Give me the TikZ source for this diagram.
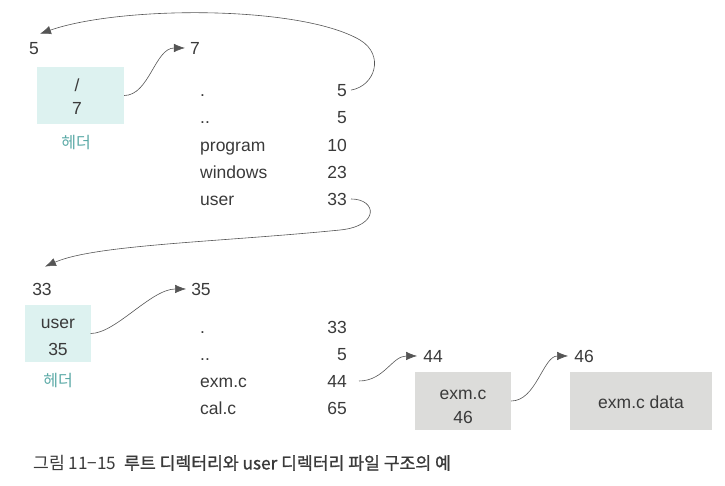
\documentclass[tikz,border=0pt]{standalone}
\usepackage{fontspec}
\setmainfont{Liberation Sans}
\newfontfamily\cjk{Noto Sans CJK KR}
\newfontfamily\cjkm[FakeBold=1.2]{Noto Sans CJK KR}
\usetikzlibrary{arrows.meta}
\definecolor{txt}{HTML}{3A3A3A}
\definecolor{hdr}{HTML}{DDF2F0}
\definecolor{teal}{HTML}{5AA9A6}
\definecolor{gbox}{HTML}{DCDCDA}
\definecolor{arr}{HTML}{555555}
\begin{document}
\begin{tikzpicture}[x=1pt,y=-1pt,
  every node/.style={inner sep=0pt,text=txt,font=\fontsize{17.5}{20}\selectfont},
  lbl/.style={anchor=base},
  nm/.style={anchor=base west},
  num/.style={anchor=base east},
  hbox/.style={fill=hdr,draw=none},
  fbox/.style={fill=gbox,draw=none},
  kor/.style={text=teal,font=\cjk\fontsize{16}{18}\selectfont},
  link/.style={draw=arr,line width=0.6pt,-{Latex[length=11pt,width=8.5pt]}}]
\useasboundingbox (0,0) rectangle (725,485);

% ---- root directory ----
\node[lbl] (p5) at (34,54) {5};
\node[lbl] (p7) at (195,54) {7};
\node[hbox,minimum width=87pt,minimum height=57pt] (h1) at (80.5,95.5) {};
\node[lbl] at (77,91) {/};
\node[lbl] at (77,114) {7};
\node[kor] (k1) at (76,143) {헤더};

\node[nm] (a1) at (200,96) {.};
\node[nm] (a2) at (200,123) {..};
\node[nm] (a3) at (200,151) {program};
\node[nm] (a4) at (200,178) {windows};
\node[nm] (a5) at (200,205) {user};
\node[num] (b1) at (347,96) {5};
\node[num] (b2) at (347,123) {5};
\node[num] (b3) at (347,151) {10};
\node[num] (b4) at (347,178) {23};
\node[num] (b5) at (347,205) {33};

% ---- user directory ----
\node[lbl] (q33) at (42,295) {33};
\node[lbl] (q35) at (201,295) {35};
\node[hbox,minimum width=66pt,minimum height=57pt] (h2) at (57.5,333.5) {};
\node[lbl] at (58,328) {user};
\node[lbl] at (58,355) {35};
\node[kor] (k2) at (58,381) {헤더};

\node[nm] (c1) at (200,333) {.};
\node[nm] (c2) at (200,360) {..};
\node[nm] (c3) at (200,387) {exm.c};
\node[nm] (c4) at (200,414) {cal.c};
\node[num] (d1) at (347,333) {33};
\node[num] (d2) at (347,360) {5};
\node[num] (d3) at (347,387) {44};
\node[num] (d4) at (347,414) {65};

% ---- file ----
\node[lbl] (r44) at (433,362) {44};
\node[fbox,minimum width=96pt,minimum height=58pt] (f1) at (463,401) {};
\node[lbl] at (463,399) {exm.c};
\node[lbl] at (463,423) {46};
\node[lbl] (r46) at (584,362) {46};
\node[fbox,minimum width=142pt,minimum height=58pt] (f2) at (641,401) {};
\node[lbl] at (641,408) {exm.c data};

% ---- caption ----
\node[anchor=west,font=\fontsize{17.2}{19}\selectfont] (cap) at (33,463)
  {\cjk 그림 11−15\ \ \cjkm 루트 디렉터리와 user 디렉터리 파일 구조의 예};

% ---- connectors ----
\coordinate (t1) at (360,40);
\draw[link] ([xshift=4pt]b1.east) .. controls +(24,-4) and +(25,15) .. (t1)
  .. controls +(-60,-35) and +(80,-28) .. ([xshift=6pt,yshift=8pt]p5.north);
\draw[link] (h1.east) .. controls +(25,0) and +(-30,0) .. ([xshift=-5pt]p7.west);
\coordinate (t2) at (340,230);
\draw[link] ([xshift=4pt]b5.east) .. controls +(26,0) and +(40,-4) .. (t2)
  .. controls +(-120,12) and +(50,-22) .. ([xshift=3pt,yshift=16pt]q33.north);
\draw[link] (h2.east) .. controls +(25,0) and +(-35,0) .. ([xshift=-5pt]q35.west);
\draw[link] ([xshift=12pt]d3.east) .. controls +(25,0) and +(-25,0) .. ([xshift=-6pt]r44.west);
\draw[link] (f1.east) .. controls +(25,0) and +(-25,0) .. ([xshift=-6pt]r46.west);
\end{tikzpicture}
\end{document}
